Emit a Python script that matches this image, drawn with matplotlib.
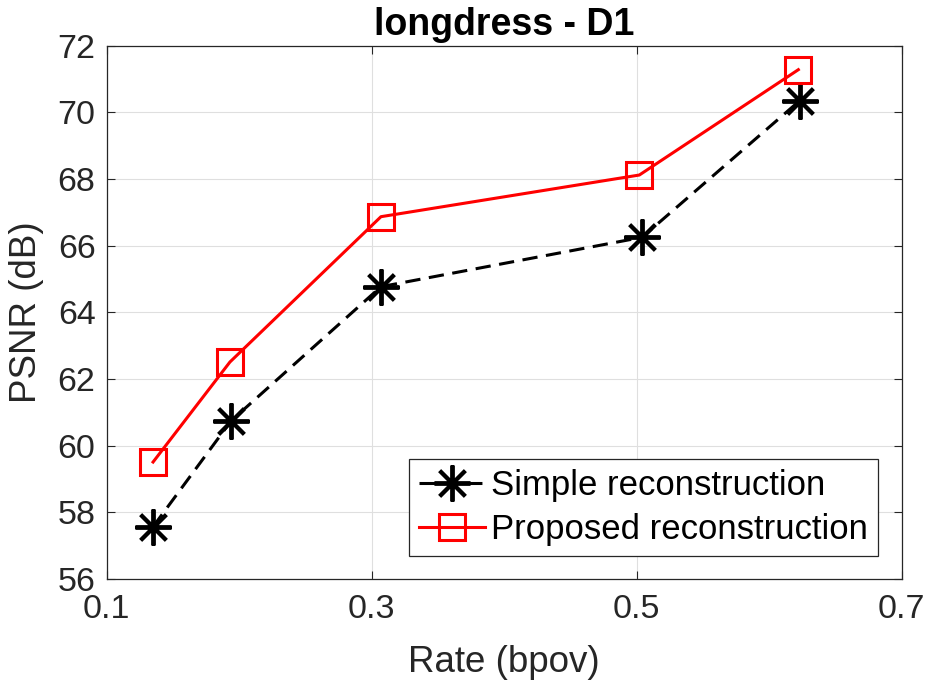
"""
PSNR vs rate for longdress (D1): simple vs proposed reconstruction.
"""
import matplotlib
matplotlib.use("Agg")
import matplotlib.pyplot as plt

rate_simple = [0.135, 0.194, 0.307, 0.504, 0.623]
psnr_simple = [57.57, 60.75, 64.77, 66.25, 70.35]
rate_proposed = [0.135, 0.193, 0.307, 0.502, 0.622]
psnr_proposed = [59.51, 62.51, 66.87, 68.12, 71.28]

x_ticks = [0.1, 0.3, 0.5, 0.7]
y_ticks = [56, 58, 60, 62, 64, 66, 68, 70, 72]

_TEXT = "#262626"

plt.rcParams["font.family"] = ["Liberation Sans", "DejaVu Sans"]

fig = plt.figure(figsize=(9.27, 6.88), dpi=100)
ax = fig.add_axes([0.1151, 0.1584, 0.8576, 0.7752])

ax.plot(rate_simple, psnr_simple, color="black", linewidth=2.2, linestyle="--",
        dashes=(5, 2.8), marker=(8, 2, 0), markersize=26, markeredgewidth=2.8,
        label="Simple reconstruction")
ax.plot(rate_proposed, psnr_proposed, color="#ff0000", linewidth=2.2,
        marker="s", markersize=18.5, markerfacecolor="none", markeredgecolor="#ff0000",
        markeredgewidth=2.2, label="Proposed reconstruction")

ax.set_xlim(0.1, 0.7)
ax.set_ylim(56, 72)
ax.set_xticks(x_ticks)
ax.set_xticklabels([f"{t:g}" for t in x_ticks])
ax.set_yticks(y_ticks)

ax.grid(True, color="#dfdfdf", linewidth=0.8)
ax.set_axisbelow(True)
ax.tick_params(direction="in", length=6, width=0.8, color=_TEXT, labelcolor=_TEXT,
               labelsize=24.5, top=True, right=True)
ax.tick_params(axis="x", pad=11)
ax.tick_params(axis="y", pad=8)
for spine in ax.spines.values():
    spine.set_color(_TEXT)
    spine.set_linewidth(0.9)

ax.set_title("longdress - D1", fontsize=27, fontweight="bold", pad=8)
ax.set_xlabel("Rate (bpov)", fontsize=26.5, color=_TEXT, labelpad=14)
ax.set_ylabel("PSNR (dB)", fontsize=26.5, color=_TEXT, labelpad=10)

leg = ax.legend(loc="lower right", bbox_to_anchor=(0.970, 0.043), fontsize=25,
                handlelength=1.9, handletextpad=0.15, borderpad=0.3, labelspacing=0.3,
                borderaxespad=0, fancybox=False, framealpha=1, edgecolor=_TEXT)
leg.get_frame().set_linewidth(0.9)

fig.savefig("out.png", dpi=100)
